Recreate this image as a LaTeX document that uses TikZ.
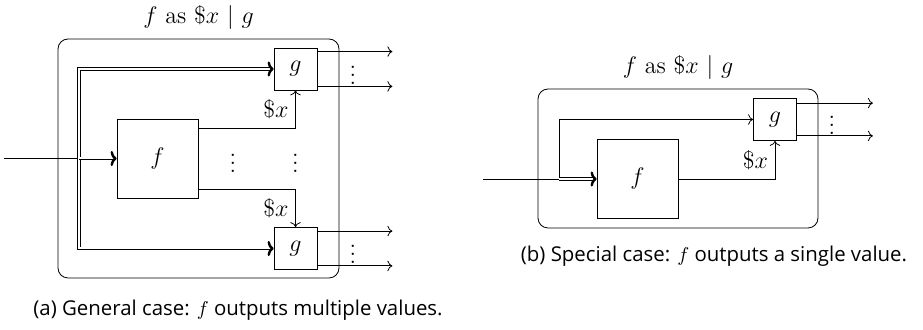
\documentclass[tikz,border=0pt]{standalone}
\usepackage{fontspec}
\setsansfont{Open Sans}
\usetikzlibrary{calc, positioning, arrows.meta}
\tikzset{
    every node/.style={font=\large},
    fbox/.style={draw, minimum width=40.5pt, minimum height=39.5pt,
        inner sep=0pt},
    gbox/.style={draw, minimum width=21.5pt, minimum height=21pt,
        inner sep=0pt},
    outerbox/.style={draw, rounded corners=5pt, inner sep=0pt},
    dblline/.style={double, double distance=1pt, shorten >=2pt},
    boldtip/.style={-{To[length=3pt, width=7.5pt, line width=1.2pt]}},
    caption/.style={font=\sffamily\fontsize{10.2}{12}\selectfont},
}

\begin{document}
\begin{tikzpicture}[x=0.5pt, y=-0.5pt]
    \useasboundingbox (0, 0) rectangle (923, 330);
    \node[outerbox, minimum width=140.5pt, minimum height=119.5pt]
        (frameA) at (198.5, 158.5) {};
    \node[above=1pt of frameA] (titleA) {$f$ as \$$x$ $|$ $g$};
    \node[gbox] (gA1) at (295.5, 69) {$g$};
    \node[fbox] (fA) at (157.5, 158.5) {$f$};
    \node[gbox] (gA2) at (295.5, 248.5) {$g$};
    \coordinate (inA) at (4, 158.5);
    \coordinate (jA) at (79, 158.5);
    \draw (inA) -- (jA);
    \draw[dblline] (jA) |- (gA1);
    \draw[dblline] (jA) |- (gA2);
    \draw[dblline] (jA) -- (fA);
    \draw[boldtip] ([xshift=-1pt]gA1.west) -- (gA1.west);
    \draw[boldtip] ([xshift=-1pt]gA2.west) -- (gA2.west);
    \draw[boldtip] ([xshift=-1pt]fA.west) -- (fA.west);
    \draw[->] ([yshift=-5pt]fA.north east) -| (gA1.south)
        node[pos=0.75, left] {\$$x$};
    \draw[->] ([yshift=4.5pt]fA.south east) -| (gA2.north)
        node[pos=0.75, left] {\$$x$};
    \draw[->] ([yshift=-2pt]gA1.north east) -- ++(75, 0);
    \draw[->] ([yshift=2pt]gA1.south east) -- ++(75, 0);
    \draw[->] ([yshift=-2pt]gA2.north east) -- ++(75, 0);
    \draw[->] ([yshift=2pt]gA2.south east) -- ++(75, 0);
    \node (dotsA1) at (353, 69) {$\vdots$};
    \node (dotsA2) at (353, 248.5) {$\vdots$};
    \node (dotsA3) at (233, 157) {$\vdots$};
    \node (dotsA4) at (295.5, 157) {$\vdots$};
    \node[caption] (capA) at (238, 310)
        {(a) General case: $f$ outputs multiple values.};
    \node[outerbox, minimum width=140pt, minimum height=69.5pt]
        (frameB) at (678, 158.5) {};
    \node[above=1pt of frameB] (titleB) {$f$ as \$$x$ $|$ $g$};
    \node[gbox] (gB) at (775, 119.5) {$g$};
    \node[fbox] (fB) at (637.5, 179) {$f$};
    \coordinate (inB) at (483, 179);
    \coordinate (jB) at (559, 179);
    \draw (inB) -- (jB);
    \draw[->] (jB) |- (gB);
    \draw[dblline] (jB) -- (fB);
    \draw[boldtip] ([xshift=-1pt]fB.west) -- (fB.west);
    \draw[->] (fB) -| (gB.south) node[pos=0.75, left] {\$$x$};
    \draw[->] ([yshift=-2.5pt]gB.north east) -- ++(76, 0);
    \draw[->] ([yshift=2.5pt]gB.south east) -- ++(76, 0);
    \node (dotsB) at (832, 119.5) {$\vdots$};
    \node[caption] (capB) at (714, 256)
        {(b) Special case: $f$ outputs a single value.};
\end{tikzpicture}
\end{document}
